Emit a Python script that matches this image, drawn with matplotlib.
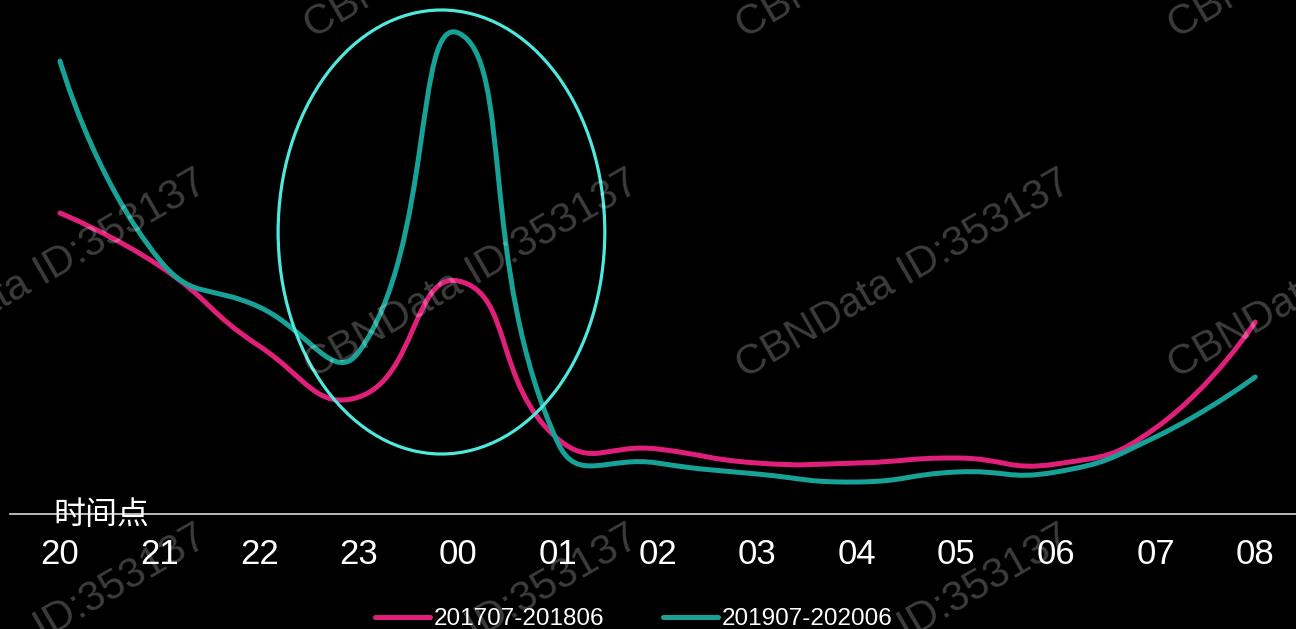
import matplotlib
matplotlib.use('Agg')
import matplotlib.pyplot as plt
import numpy as np
from matplotlib.path import Path
from matplotlib.patches import PathPatch, Ellipse
from matplotlib.lines import Line2D

plt.rcParams['font.family'] = ['Liberation Sans', 'Noto Sans CJK SC', 'DejaVu Sans']

# data
hours = ['20', '21', '22', '23', '00', '01', '02', '03', '04', '05', '06', '07', '08']
series_names = ['201707-201806', '201907-202006']
share_1718 = [6.02, 4.96, 3.36, 2.34, 4.66, 1.50, 1.30, 1.02, 1.02, 1.12, 1.00, 1.72, 3.84]
share_1920 = [9.06, 5.08, 4.14, 3.24, 9.62, 1.42, 1.02, 0.80, 0.64, 0.84, 0.84, 1.54, 2.74]

PINK = '#e01f7a'
TEAL = '#17a197'
RING = '#4ee8dc'

W, H = 1296, 629
fig = plt.figure(figsize=(W / 100, H / 100), dpi=100, facecolor='black')
ax = fig.add_axes([10 / W, 115 / H, 1286 / W, 514 / H])
ax.set_facecolor('black')
ax.set_xlim(-0.502, 12.41)
ax.set_ylim(0, 10.28)

for side in ['top', 'right', 'left']:
    ax.spines[side].set_visible(False)
ax.spines['bottom'].set_color('#d8d8d8')
ax.spines['bottom'].set_linewidth(1.2)
ax.set_yticks([])
ax.set_xticks(range(len(hours)))
ax.set_xticklabels(hours, fontsize=25, color='white')
ax.tick_params(axis='x', length=0, pad=17)


def smooth_path(xs, ys, smooth=0.5):
    # echarts-like bezier smoothing, computed in pixel space
    pts = ax.transData.transform(np.column_stack([xs, ys]))
    n = len(pts)
    cin = [p.copy() for p in pts]
    cout = [p.copy() for p in pts]
    for i in range(1, n - 1):
        p = pts[i]
        v = pts[i + 1] - pts[i - 1]
        d0 = np.hypot(*(p - pts[i - 1]))
        d1 = np.hypot(*(pts[i + 1] - p))
        r = d1 / (d0 + d1)
        cin[i] = p - v * smooth * (1 - r)
        cout[i] = p + v * smooth * r
    verts = [pts[0]]
    codes = [Path.MOVETO]
    for i in range(n - 1):
        verts += [cout[i], cin[i + 1], pts[i + 1]]
        codes += [Path.CURVE4] * 3
    verts = ax.transData.inverted().transform(np.array(verts))
    return Path(verts, codes)


x = np.arange(len(hours))
for vals, col in [(share_1718, PINK), (share_1920, TEAL)]:
    ax.add_patch(PathPatch(smooth_path(x, vals), facecolor='none', edgecolor=col,
                           lw=3.6, capstyle='round', joinstyle='round', clip_on=False, zorder=3))

# highlight ring around midnight
ax.add_patch(Ellipse((3.83, 5.64), 3.28, 8.88, facecolor='none', edgecolor=RING,
                     lw=2.3, clip_on=False, zorder=4))

fig.text(101 / W, 1 - 515 / H, '时间点', fontsize=23, color='white', ha='center', va='center',
         family=['Noto Sans CJK SC', 'DejaVu Sans'])

handles = [Line2D([], [], color=PINK, lw=3.6, solid_capstyle='round'),
           Line2D([], [], color=TEAL, lw=3.6, solid_capstyle='round')]
fig.legend(handles, series_names, loc='center', bbox_to_anchor=(0.489, 10 / H), ncol=2,
           frameon=False, fontsize=17.5, handlelength=2.26, handletextpad=0.16,
           columnspacing=2.4, labelcolor='white')

# watermark
for cy in [-65, 275, 630]:
    for cx in [40, 472, 904, 1336]:
        fig.text(cx / W, 1 - cy / H, 'CBNData ID:353137', fontsize=30, color='white', alpha=0.24,
                 rotation=30, ha='center', va='center', rotation_mode='anchor', zorder=10)

fig.savefig('out.png', dpi=100, facecolor='black')
